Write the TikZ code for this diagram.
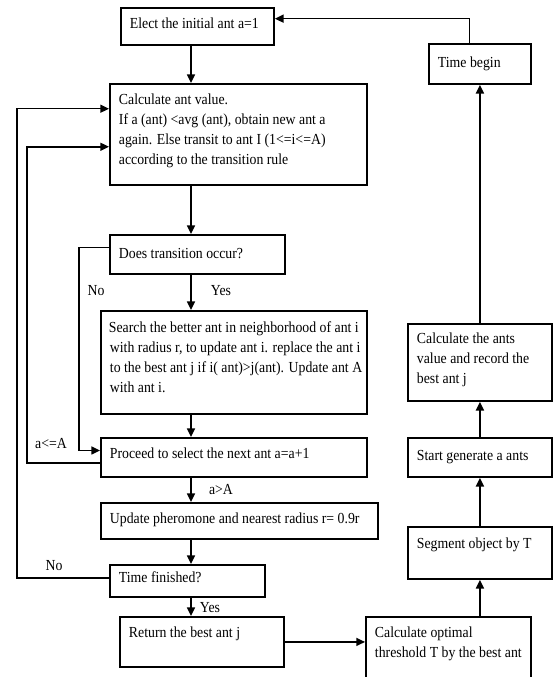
\documentclass[tikz,border=0pt]{standalone}
\usepackage{fontspec}
\setmainfont{Liberation Serif}[FakeStretch=0.9]
\usepackage{tikz}
\usetikzlibrary{arrows.meta,calc}
\newlength{\pxu}\setlength{\pxu}{0.75pt}
% box text: [top pad]{width}{height}{lines}
\newcommand{\stg}[4][7]{\parbox[c][#3\pxu][t]{#2\pxu}{\vspace*{#1\pxu}\hspace*{9\pxu}\begin{tabular}[t]{@{}l@{}}#4\end{tabular}}}

\begin{document}
\begin{tikzpicture}[x=0.75pt, y=-0.75pt,
  every node/.style={font=\fontsize{11.5}{15}\selectfont},
  stage/.style={draw, line width=1.4pt, anchor=north west, inner sep=0pt},
  lbl/.style={inner sep=0pt},
  ar/.style={line width=1.1pt, -{Triangle[length=6.5pt, width=6pt]}}]
  \useasboundingbox (0,0) rectangle (553,677);
  % left column
  \node[stage] (b1) at (120,7) {\stg{153}{37}{Elect the initial ant a=1}};
  \node[stage] (b2) at (109,83) {\stg{257}{101}{Calculate ant value.\\
    If a (ant) <avg (ant), obtain new ant a\\
    again. Else transit to ant I (1<=i<=A)\\
    according to the transition rule}};
  \node[stage] (b3) at (109,234) {\stg[10]{175}{39}{Does transition occur?}};
  \node[stage] (b4) at (100,310) {\stg[8]{266}{103}{\hspace*{-1\pxu}Search the better ant in neighborhood of ant i\\
    with radius r, to update ant i. replace the ant i\\
    to the best ant j if i( ant)>j(ant). Update ant A\\
    with ant i.}};
  \node[stage] (b5) at (100,437) {\stg{266}{39}{Proceed to select the next ant a=a+1}};
  \node[stage] (b6) at (100,502) {\stg{277}{36}{Update pheromone and nearest radius r= 0.9r}};
  \node[stage] (b7) at (109,564) {\stg[4]{155}{32}{Time finished?}};
  \node[stage] (b8) at (119,616) {\stg{164}{50}{Return the best ant j}};
  % right column
  \node[stage] (b9) at (365,616) {\stg{165}{70}{Calculate optimal\\ threshold T by the best ant}};
  \node[stage] (b10) at (407,526) {\stg[8]{144}{52}{Segment object by T}};
  \node[stage] (b11) at (407,437) {\stg[9]{144}{39}{Start generate a ants}};
  \node[stage] (b12) at (407,323) {\stg[6]{144}{77}{Calculate the ants\\ value and record the\\ best ant j}};
  \node[stage] (b13) at (428,43) {\stg[10]{102}{40}{Time begin}};
  % branch labels
  \node[lbl] (no1) at (96,291) {No};
  \node[lbl] (yes1) at (221,291) {Yes};
  \node[lbl] (le) at (51,444) {a<=A};
  \node[lbl] (gt) at (221,490) {a>A};
  \node[lbl] (no2) at (54,566) {No};
  \node[lbl] (yes2) at (210,608) {Yes};
  % connector points
  \coordinate (spine) at (191,0);
  \coordinate (lx1) at (17,0);
  \coordinate (lx2) at (27,0);
  \coordinate (lx3) at (79,0);
  \coordinate (b1in) at ($(b1.north east)!0.3!(b1.south east)$);
  \coordinate (b2in1) at ($(b2.north west)!0.25!(b2.south west)$);
  \coordinate (b2in2) at ($(b2.north west)!0.62!(b2.south west)$);
  \coordinate (b3out) at ($(b3.north west)!0.33!(b3.south west)$);
  \coordinate (b5in) at ($(b5.north west)!0.33!(b5.south west)$);
  \coordinate (b5out) at ($(b5.north west)!0.64!(b5.south west)$);
  \coordinate (b7out) at ($(b7.north west)!0.41!(b7.south west)$);
  \coordinate (b13out) at ($(b13.north west)!0.4!(b13.north east)$);
  % main flow
  \foreach \a/\b in {b1/b2, b2/b3, b3/b4, b4/b5, b5/b6, b6/b7, b7/b8}
    \draw[ar] (\a.south -| spine) -- (\b.north -| spine);
  % loops back
  \draw[ar] (b3out) -- (b3out -| lx3) |- (b5in);
  \draw[ar] (b5out) -- (b5out -| lx2) |- (b2in2);
  \draw[ar] (b7out) -- (b7out -| lx1) |- (b2in1);
  % right column upwards
  \draw[ar] (b8.east) -- (b8.east -| b9.west);
  \draw[ar] (b9.north -| b10.south) -- (b10.south);
  \draw[ar] (b10.north) -- (b11.south);
  \draw[ar] (b11.north) -- (b12.south);
  \draw[ar] (b12.north) -- (b13.south);
  \draw[ar] (b13out) |- (b1in);
\end{tikzpicture}
\end{document}
